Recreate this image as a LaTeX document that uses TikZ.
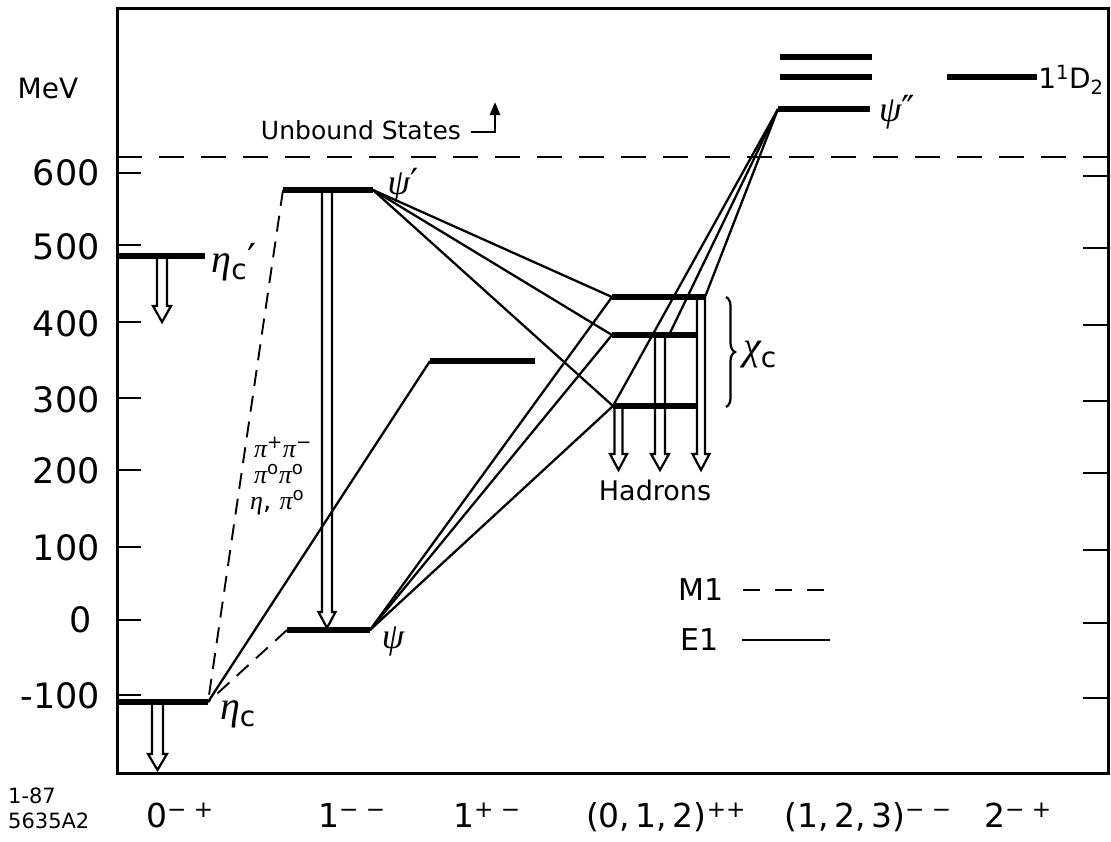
\documentclass[tikz,border=0pt]{standalone}
\usepackage{fontspec}
\setmainfont{DejaVu Sans}
\newfontfamily\gkf{Liberation Serif}
\newcommand\gk[1]{{\gkf\itshape #1}}
\usetikzlibrary{decorations.pathreplacing,arrows.meta}
\newcommand\hollowarr[5]{%
  \draw[hollow] (#1-#4,#2) -- (#1-#4,#3-16) -- (#1-#5,#3-16) -- (#1,#3) -- (#1+#5,#3-16) -- (#1+#4,#3-16) -- (#1+#4,#2);}
\begin{document}
\begin{tikzpicture}[x=1pt,y=-1pt,
  frame/.style={line width=3pt},
  tick/.style={line width=2.6pt},
  level/.style={line width=5.5pt},
  eone/.style={line width=2.3pt},
  mone/.style={line width=1.9pt, dash pattern=on 16pt off 10pt},
  unbound/.style={line width=1.9pt, dash pattern=on 25pt off 17pt},
  hollow/.style={line width=2.2pt, line join=miter},
  axl/.style={inner sep=0pt, font=\fontsize{35}{40}\selectfont},
  txt/.style={inner sep=0pt, font=\fontsize{30}{36}\selectfont},
  glab/.style={inner sep=0pt, font=\fontsize{40}{44}\selectfont},
  pil/.style={inner sep=0pt, anchor=west, font=\fontsize{26}{28}\selectfont},
  bot/.style={inner sep=0pt, anchor=base, font=\fontsize{33}{38}\selectfont},
  small/.style={inner sep=0pt, anchor=base west, font=\fontsize{21}{24}\selectfont}
]
\useasboundingbox (0,0) rectangle (1111,841);
% frame and ticks
\draw[frame] (117,8) rectangle (1108,773);
\foreach \t in {173,245,322,398,470,547,620,695}{
  \draw[tick] (117,\t) -- ++(24,0);
  \draw[tick] (1108,\t+3) -- ++(-25,0);
}
% axis labels
\node[txt, font=\fontsize{28}{32}\selectfont] (mev) at (48,88) {MeV};
\node[axl, anchor=east] (v600) at (100,173) {600};
\node[axl, anchor=east] (v500) at (100,247) {500};
\node[axl, anchor=east] (v400) at (100,324) {400};
\node[axl, anchor=east] (v300) at (100,400) {300};
\node[axl, anchor=east] (v200) at (100,471) {200};
\node[axl, anchor=east] (v100) at (100,548) {100};
\node[axl] (v0) at (81,620) {0};
\node[axl, anchor=east] (vm100) at (100,696) {-100};
% unbound threshold
\coordinate (ubL) at (117,157);
\coordinate (ubR) at (1108,157);
\draw[unbound] (ubL) -- (ubR);
\node[txt, font=\fontsize{25}{30}\selectfont] (ub) at (361,130) {Unbound States};
\coordinate (ubs) at (471,132);
\coordinate (ubk) at (495,132);
\coordinate (ubt) at (495,102);
\draw[line width=2.4pt, -{Triangle[length=13pt,width=10pt]}] (ubs) -- (ubk) -- (ubt);
% level coordinates
\coordinate (etacL) at (117,702);   \coordinate (etacR) at (208,702);
\coordinate (etacpL) at (117,256);  \coordinate (etacpR) at (205,256);
\coordinate (psipL) at (283,190);   \coordinate (psipR) at (373,190);
\coordinate (psiL) at (287,630);    \coordinate (psiR) at (370,630);
\coordinate (hcL) at (430,361);     \coordinate (hcR) at (535,361);
\coordinate (chiTL) at (612,297);   \coordinate (chiTR) at (705,297);
\coordinate (chiOL) at (612,335);   \coordinate (chiOR) at (697,335);
\coordinate (chiZL) at (613,406);   \coordinate (chiZR) at (697,406);
\coordinate (chiOM) at (669,335);
\coordinate (psippL) at (778,109);  \coordinate (psippR) at (870,109);
\coordinate (dAL) at (780,57);      \coordinate (dAR) at (872,57);
\coordinate (dBL) at (780,77);      \coordinate (dBR) at (872,77);
\coordinate (dCL) at (947,77);      \coordinate (dCR) at (1037,77);
% hollow arrows (decays)
\hollowarr{157.5}{702}{770}{5.5}{9.5}
\hollowarr{162}{256}{322}{5}{9}
\hollowarr{327}{190}{628}{5}{8.5}
\hollowarr{618.5}{406}{470}{4}{8.5}
\hollowarr{660}{335}{470}{5}{9}
\hollowarr{701}{297}{470}{4}{8.5}
% M1 transitions
\draw[mone] (psipL) -- (etacR);
\draw[mone] (psiL) -- (etacR);
% E1 transitions
\draw[eone] (hcL) -- (etacR);
\draw[eone] (psipR) -- (chiTL);
\draw[eone] (psipR) -- (chiOL);
\draw[eone] (psipR) -- (chiZL);
\draw[eone] (psiR) -- (chiTL);
\draw[eone] (psiR) -- (chiOL);
\draw[eone] (psiR) -- (chiZL);
\draw[eone] (psippL) -- (chiTR);
\draw[eone] (psippL) -- (chiOM);
\draw[eone] (psippL) -- (chiZL);
% levels
\draw[level] (etacL) -- (etacR);
\draw[level] (etacpL) -- (etacpR);
\draw[level] (psipL) -- (psipR);
\draw[level] (psiL) -- (psiR);
\draw[level] (hcL) -- (hcR);
\draw[level] (chiTL) -- (chiTR);
\draw[level] (chiOL) -- (chiOR);
\draw[level] (chiZL) -- (chiZR);
\draw[level] (psippL) -- (psippR);
\draw[level] (dAL) -- (dAR);
\draw[level] (dBL) -- (dBR);
\draw[level] (dCL) -- (dCR);
% brace
\coordinate (brT) at (726,297);
\coordinate (brB) at (726,407);
\draw[line width=2.2pt, decorate, decoration={brace, amplitude=9pt}] (brT) -- (brB);
% state labels
\node[glab] (letac) at (238,714) {\gk{η}\textsubscript{c}};
\node[glab] (letacp) at (234,262) {\gk{η}\textsubscript{c}′};
\node[glab, font=\fontsize{36}{40}\selectfont] (lpsip) at (403,185) {\gk{ψ}′};
\node[glab, font=\fontsize{36}{40}\selectfont] (lpsi) at (393,641) {\gk{ψ}};
\node[glab, font=\fontsize{36}{40}\selectfont] (lpsipp) at (897,112) {\gk{ψ}″};
\node[glab] (lchic) at (760,355) {\gk{χ}\textsubscript{c}};
\node[txt, font=\fontsize{28}{32}\selectfont] (ld) at (1071,80) {1\textsuperscript{1}D\textsubscript{2}};
\node[txt, font=\fontsize{27}{32}\selectfont] (had) at (655,490) {Hadrons};
\node[pil] (pi1) at (254,447) {\gk{π}\textsuperscript{+}\gk{π}\textsuperscript{−}};
\node[pil] (pi2) at (254,474) {\gk{π}\textsuperscript{o}\gk{π}\textsuperscript{o}};
\node[pil] (pi3) at (250,503) {\gk{η}, \gk{π}\textsuperscript{o}};
% legend
\node[txt, anchor=west] (m1) at (678,590) {M1};
\coordinate (m1a) at (743,590); \coordinate (m1b) at (832,590);
\draw[line width=2.4pt, dash pattern=on 17pt off 15pt] (m1a) -- (m1b);
\node[txt, anchor=west] (e1) at (680,640) {E1};
\coordinate (e1a) at (742,640); \coordinate (e1b) at (830,640);
\draw[line width=2.2pt] (e1a) -- (e1b);
% bottom labels
\node[bot] (j0) at (180,827) {0\textsuperscript{− +}};
\node[bot] (j1) at (352,827) {1\textsuperscript{− −}};
\node[bot] (j2) at (487,827) {1\textsuperscript{+ −}};
\node[bot] (j3) at (666,827) {(0,\,1,\,2)\textsuperscript{++}};
\node[bot] (j4) at (868,827) {(1,\,2,\,3)\textsuperscript{− −}};
\node[bot] (j5) at (1018,827) {2\textsuperscript{− +}};
\node[small] (id1) at (8,803) {1-87};
\node[small] (id2) at (8,828) {5635A2};
\end{tikzpicture}
\end{document}
